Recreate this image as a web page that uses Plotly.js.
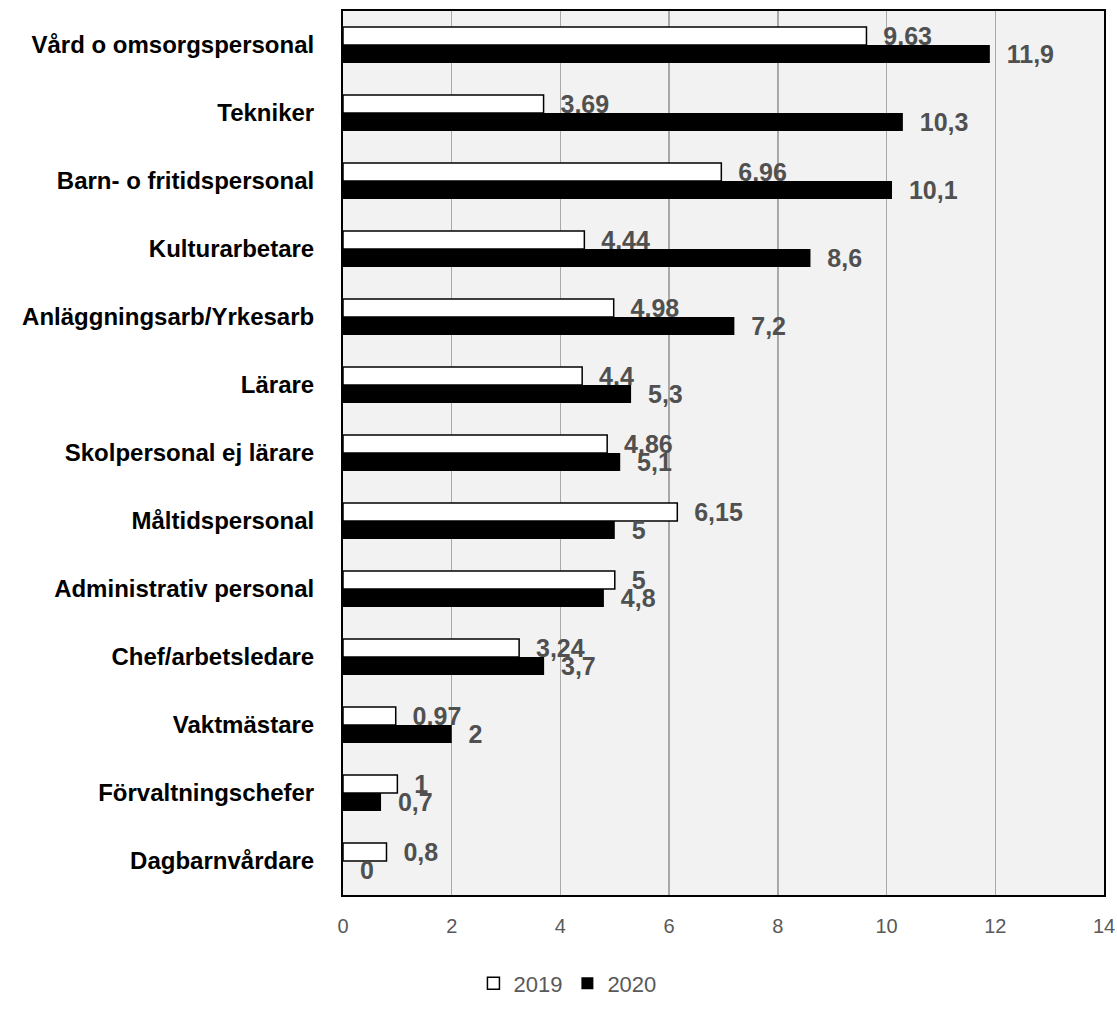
<!DOCTYPE html>
<html>
<head>
<meta charset="utf-8">
<script src="https://cdn.plot.ly/plotly-3.0.1.min.js"></script>
<style>html,body{margin:0;padding:0;background:#fff;}#chart{width:1117px;height:1019px;}</style>
</head>
<body>
<div id="chart"></div>
<script>
const categories = ['Vård o omsorgspersonal','Tekniker','Barn- o fritidspersonal','Kulturarbetare','Anläggningsarb/Yrkesarb','Lärare','Skolpersonal ej lärare','Måltidspersonal','Administrativ personal','Chef/arbetsledare','Vaktmästare','Förvaltningschefer','Dagbarnvårdare'];
const values2019 = [9.63, 3.69, 6.96, 4.44, 4.98, 4.4, 4.86, 6.15, 5, 3.24, 0.97, 1, 0.8];
const values2020 = [11.9, 10.3, 10.1, 8.6, 7.2, 5.3, 5.1, 5, 4.8, 3.7, 2, 0.7, 0];
const seriesNames = ['2019', '2020'];
const xTickValues = [0, 2, 4, 6, 8, 10, 12, 14];

const fmt = v => '\u00a0\u00a0' + String(v).replace('.', ',');
const labelFont = {family: 'Liberation Sans, Arial, sans-serif', size: 25, color: '#505050', weight: 'bold'};

const traces = [
  {
    type: 'bar', orientation: 'h', name: seriesNames[0],
    y: categories, x: values2019,
    text: values2019.map(fmt), textposition: 'outside', cliponaxis: false,
    constraintext: 'none', textfont: labelFont,
    marker: {color: '#ffffff', line: {color: '#000000', width: 1.5}},
    hoverinfo: 'x+y'
  },
  {
    type: 'bar', orientation: 'h', name: seriesNames[1],
    y: categories, x: values2020,
    text: values2020.map(fmt), textposition: 'outside', cliponaxis: false,
    constraintext: 'none', textfont: labelFont,
    marker: {color: '#000000', line: {color: '#000000', width: 0}},
    hoverinfo: 'x+y'
  }
];

const layout = {
  width: 1117, height: 1019,
  margin: {l: 343, r: 13, t: 11, b: 124, pad: 0},
  paper_bgcolor: '#ffffff',
  plot_bgcolor: '#f2f2f2',
  barmode: 'group',
  bargap: 0.47,
  bargroupgap: 0,
  showlegend: true,
  legend: {
    orientation: 'h', xref: 'container', yref: 'container',
    x: 0.508, xanchor: 'center', y: 0.035, yanchor: 'middle',
    font: {family: 'Liberation Sans, sans-serif', size: 22, color: '#595959'},
    traceorder: 'normal'
  },
  xaxis: {
    range: [0, 14], tickvals: xTickValues, ticktext: xTickValues.map(String),
    showgrid: true, gridcolor: '#a9a9a9', gridwidth: 1.5,
    zeroline: false, showline: true, mirror: true, linecolor: '#000000', linewidth: 2,
    ticks: '', ticklabelstandoff: 12,
    tickfont: {family: 'Liberation Sans, sans-serif', size: 20, color: '#595959'}
  },
  yaxis: {
    type: 'category', autorange: 'reversed',
    showgrid: false, zeroline: false, showline: true, mirror: true, linecolor: '#000000', linewidth: 2,
    ticks: '', ticklabelstandoff: 22,
    tickfont: {family: 'Liberation Sans, Arial, sans-serif', size: 24, color: '#000000', weight: 'bold'}
  }
};

Plotly.newPlot('chart', traces, layout, {displayModeBar: false, staticPlot: true});
</script>
</body>
</html>
